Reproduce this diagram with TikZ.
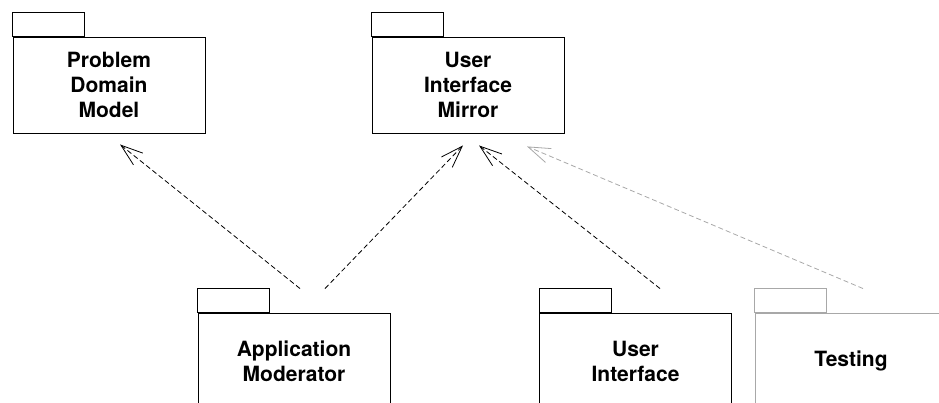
\documentclass[tikz,border=0pt]{standalone}
\usepackage{fontspec}
\setmainfont{TeX Gyre Heros}
\usetikzlibrary{arrows.meta}
\definecolor{lightgray}{HTML}{A8A8A8}
\tikzset{
  pkg/.style={draw, line width=0.9pt, minimum width=192pt, minimum height=96pt,
    inner sep=0pt, align=center, font=\fontsize{21pt}{25pt}\selectfont\bfseries},
  tab/.style={draw, line width=0.9pt},
  dep/.style={line width=0.8pt, dash pattern=on 5pt off 3pt,
    -{Straight Barb[length=22pt,width=15pt,line width=0.8pt]}},
}
\begin{document}
\begin{tikzpicture}[x=1pt,y=1pt]
\clip (0,0) rectangle (939,403);
\node[pkg] (pdm) at (109,318) {Problem\\Domain\\Model};
\node[pkg] (uim) at (468,318) {User\\Interface\\Mirror};
\node[pkg] (app) at (294,42) {Application\\Moderator};
\node[pkg] (ui) at (635.5,42) {User\\Interface};
\node[pkg, draw=lightgray] (test) at (851,42) {Testing};
\draw[tab] (pdm.north west) rectangle +(72,24);
\draw[tab] (uim.north west) rectangle +(72,24);
\draw[tab] (app.north west) rectangle +(72,24);
\draw[tab] (ui.north west) rectangle +(72,24);
\draw[tab, draw=lightgray] (test.north west) rectangle +(72,24);
\coordinate (h1) at ([xshift=11pt,yshift=-11pt]pdm.south);
\coordinate (h2) at ([xshift=-5pt,yshift=-12pt]uim.south);
\coordinate (h3) at ([xshift=11pt,yshift=-12pt]uim.south);
\coordinate (h4) at ([xshift=59pt,yshift=-13pt]uim.south);
\coordinate (s1) at ([xshift=6pt,yshift=24pt]app.north);
\coordinate (s2) at ([xshift=31pt,yshift=24pt]app.north);
\coordinate (s3) at ([xshift=24.5pt,yshift=24pt]ui.north);
\coordinate (s4) at ([xshift=12pt,yshift=24pt]test.north);
\draw[dep] (s1) -- (h1);
\draw[dep] (s2) -- (h2);
\draw[dep] (s3) -- (h3);
\draw[dep, draw=lightgray] (s4) -- (h4);
\end{tikzpicture}
\end{document}
